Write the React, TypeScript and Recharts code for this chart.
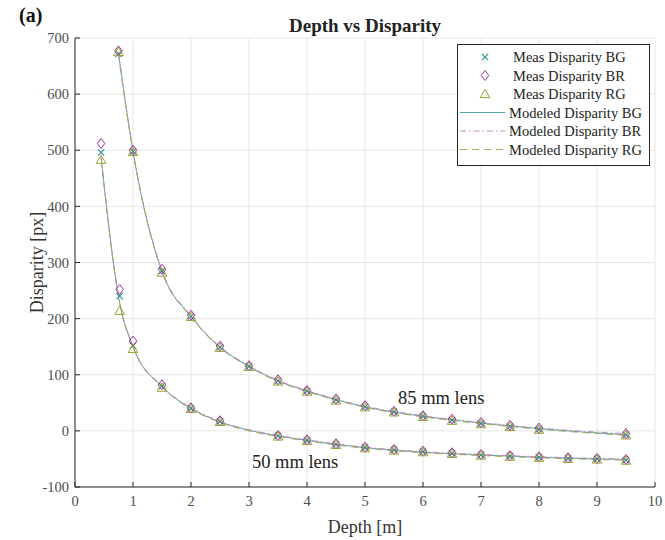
import {
  ComposedChart,
  Scatter,
  Line,
  XAxis,
  YAxis,
  CartesianGrid,
  Legend,
  ReferenceDot,
  Label,
} from 'recharts';

// depths [m]
const depth50 = [0.45, 0.77, 1.0, 1.5, 2, 2.5, 3.5, 4, 4.5, 5, 5.5, 6, 6.5, 7, 7.5, 8, 8.5, 9, 9.5];
const depth85 = [0.75, 1.0, 1.5, 2, 2.5, 3, 3.5, 4, 4.5, 5, 5.5, 6, 6.5, 7, 7.5, 8, 9.5];

// measured disparity [px]
const measBG50 = [496, 240, 152, 80, 40, 17, -9, -17, -24, -30, -34, -37, -40, -43, -45, -47, -49, -50, -52];
const measBR50 = [512, 252, 160, 82, 41, 18, -8, -16, -23, -29, -33, -36, -39, -42, -44, -46, -48, -49, -51];
const measRG50 = [483, 214, 146, 77, 39, 16, -10, -18, -25, -31, -35, -38, -41, -44, -46, -48, -50, -51, -53];

const measBG85 = [672, 498, 285, 204, 149, 115, 89, 71, 55, 43, 34, 26, 19, 13, 8, 3, -7];
const measBR85 = [677, 500, 288, 206, 151, 116, 91, 72, 57, 45, 35, 27, 21, 15, 10, 5, -5];
const measRG85 = [675, 497, 282, 203, 148, 114, 88, 70, 54, 42, 33, 25, 18, 12, 7, 2, -8];

// modeled curves
const modelDepth50 = [0.45, 0.77, 1.0, 1.5, 2, 2.5, 3, 3.5, 4, 5, 6, 7, 8, 9, 9.5];
const modelBG50 = [486, 228, 150, 79, 40, 16, 1, -9, -17, -30, -38, -43, -47, -50, -51];
const modelBR50 = [488, 230, 151, 80, 41, 17, 2, -8, -16, -29, -37, -42, -46, -49, -50];
const modelRG50 = [485, 227, 149, 78, 39, 15, 0, -10, -18, -31, -39, -44, -48, -51, -52];

const modelDepth85 = [0.75, 1.0, 1.5, 2, 2.5, 3, 3.5, 4, 5, 6, 7, 8, 9.5];
const modelBG85 = [672, 498, 284, 204, 149, 115, 89, 71, 43, 26, 14, 4, -7];
const modelBR85 = [674, 499, 286, 205, 150, 116, 90, 72, 44, 27, 15, 5, -5];
const modelRG85 = [671, 497, 283, 203, 148, 114, 88, 70, 42, 25, 13, 3, -8];

const xTicks = [0, 1, 2, 3, 4, 5, 6, 7, 8, 9, 10];
const yTicks = [-100, 0, 100, 200, 300, 400, 500, 600, 700];

const legendNames = [
  'Meas Disparity BG',
  'Meas Disparity BR',
  'Meas Disparity RG',
  'Modeled Disparity BG',
  'Modeled Disparity BR',
  'Modeled Disparity RG',
];

const zip = (xs: number[], ys: number[]) => xs.map((x, i) => ({ x, y: ys[i] }));

const BG_MARK = '#2a9090';
const BR_MARK = '#a030a8';
const RG_MARK = '#a0a030';
const BG_LINE = '#4fa9a9';
const BR_LINE = '#c88ac8';
const RG_LINE = '#a8a858';
const AXIS = '#262626';
const FONT = '"Liberation Serif", serif';

const XMark = (props: any) => {
  const { cx, cy } = props;
  const s = 3.2;
  return (
    <path
      d={`M${cx - s},${cy - s}L${cx + s},${cy + s}M${cx - s},${cy + s}L${cx + s},${cy - s}`}
      stroke={BG_MARK}
      strokeWidth={1.1}
      fill="none"
    />
  );
};

const DiamondMark = (props: any) => {
  const { cx, cy } = props;
  return (
    <path
      d={`M${cx},${cy - 5}L${cx + 3.8},${cy}L${cx},${cy + 5}L${cx - 3.8},${cy}Z`}
      stroke={BR_MARK}
      strokeWidth={1}
      fill="none"
    />
  );
};

const TriangleMark = (props: any) => {
  const { cx, cy } = props;
  return (
    <path
      d={`M${cx},${cy - 4.8}L${cx + 4.8},${cy + 3.6}L${cx - 4.8},${cy + 3.6}Z`}
      stroke={RG_MARK}
      strokeWidth={1}
      fill="none"
    />
  );
};

const LegendBox = () => {
  const rowY = [13, 31.5, 50, 68.5, 87, 105.5];
  return (
    <svg width={193} height={122} style={{ display: 'block' }}>
      <rect x={0.5} y={0.5} width={192} height={121} fill="#fff" stroke={AXIS} strokeWidth={1} />
      <XMark cx={28} cy={rowY[0]} />
      <DiamondMark cx={28} cy={rowY[1]} />
      <TriangleMark cx={28} cy={rowY[2]} />
      <line x1={3} x2={48} y1={rowY[3]} y2={rowY[3]} stroke={BG_LINE} strokeWidth={1} />
      <line x1={3} x2={48} y1={rowY[4]} y2={rowY[4]} stroke={BR_LINE} strokeWidth={1} strokeDasharray="6 3 1.5 3" />
      <line x1={3} x2={48} y1={rowY[5]} y2={rowY[5]} stroke={RG_LINE} strokeWidth={1} strokeDasharray="7 5" />
      {legendNames.map((name, i) => (
        <text
          key={name}
          x={i < 3 ? 56 : 52}
          y={rowY[i]}
          dominantBaseline="central"
          fontFamily={FONT}
          fontSize={14.5}
          fill="#222"
        >
          {name}
        </text>
      ))}
    </svg>
  );
};

const LensLabel = (props: any) => {
  const { viewBox, text } = props;
  return (
    <text x={viewBox.x} y={viewBox.y} dominantBaseline="central" fontFamily={FONT} fontSize={18.5} fill="#222">
      {text}
    </text>
  );
};

export default function App() {
  const tickStyle = { fill: '#4d4d4d', fontSize: 14.5, fontFamily: FONT };

  return (
    <div style={{ position: 'absolute', left: 0, top: 0, width: 665, height: 540, background: '#fff' }}>
      <div
        style={{
          position: 'absolute',
          left: 19,
          top: 4,
          fontFamily: FONT,
          fontWeight: 'bold',
          fontSize: 20,
          color: '#111',
        }}
      >
        (a)
      </div>
      <div
        style={{
          position: 'absolute',
          left: 75,
          width: 580,
          top: 15,
          textAlign: 'center',
          fontFamily: FONT,
          fontWeight: 'bold',
          fontSize: 19,
          color: '#222',
        }}
      >
        Depth vs Disparity
      </div>
      <ComposedChart width={665} height={540} margin={{ top: 38, right: 10, bottom: 0, left: 0 }}>
        <CartesianGrid stroke="#e6e6e6" strokeWidth={1} />
        <XAxis
          dataKey="x"
          type="number"
          domain={[0, 10]}
          ticks={xTicks}
          allowDataOverflow
          height={53}
          stroke={AXIS}
          tickSize={-5}
          tickMargin={14}
          tick={tickStyle}
        >
          <Label
            value="Depth [m]"
            position="insideBottom"
            offset={7}
            style={{ fontFamily: FONT, fontSize: 18, fill: '#333' }}
          />
        </XAxis>
        <XAxis
          xAxisId="top"
          orientation="top"
          type="number"
          domain={[0, 10]}
          ticks={xTicks}
          allowDataOverflow
          height={0}
          stroke={AXIS}
          tickSize={-5}
          tick={false}
        />
        <YAxis
          type="number"
          domain={[-100, 700]}
          ticks={yTicks}
          allowDataOverflow
          width={75}
          stroke={AXIS}
          tickSize={-5}
          tickMargin={11}
          tick={tickStyle}
        >
          <Label
            value="Disparity [px]"
            position="insideLeft"
            angle={-90}
            offset={37}
            style={{ fontFamily: FONT, fontSize: 18, fill: '#333', textAnchor: 'middle' }}
          />
        </YAxis>
        <YAxis
          yAxisId="right"
          orientation="right"
          type="number"
          domain={[-100, 700]}
          ticks={yTicks}
          allowDataOverflow
          width={0}
          stroke={AXIS}
          tickSize={-5}
          tick={false}
        />

        <Line data={zip(modelDepth50, modelBG50)} dataKey="y" type="monotone" stroke={BG_LINE} strokeWidth={1} dot={false} isAnimationActive={false} />
        <Line data={zip(modelDepth85, modelBG85)} dataKey="y" type="monotone" stroke={BG_LINE} strokeWidth={1} dot={false} isAnimationActive={false} />
        <Line data={zip(modelDepth50, modelBR50)} dataKey="y" type="monotone" stroke={BR_LINE} strokeWidth={1} strokeDasharray="6 3 1.5 3" dot={false} isAnimationActive={false} />
        <Line data={zip(modelDepth85, modelBR85)} dataKey="y" type="monotone" stroke={BR_LINE} strokeWidth={1} strokeDasharray="6 3 1.5 3" dot={false} isAnimationActive={false} />
        <Line data={zip(modelDepth50, modelRG50)} dataKey="y" type="monotone" stroke={RG_LINE} strokeWidth={1} strokeDasharray="7 5" dot={false} isAnimationActive={false} />
        <Line data={zip(modelDepth85, modelRG85)} dataKey="y" type="monotone" stroke={RG_LINE} strokeWidth={1} strokeDasharray="7 5" dot={false} isAnimationActive={false} />

        <Scatter data={zip(depth50, measBG50)} dataKey="y" shape={XMark} isAnimationActive={false} />
        <Scatter data={zip(depth85, measBG85)} dataKey="y" shape={XMark} isAnimationActive={false} />
        <Scatter data={zip(depth50, measBR50)} dataKey="y" shape={DiamondMark} isAnimationActive={false} />
        <Scatter data={zip(depth85, measBR85)} dataKey="y" shape={DiamondMark} isAnimationActive={false} />
        <Scatter data={zip(depth50, measRG50)} dataKey="y" shape={TriangleMark} isAnimationActive={false} />
        <Scatter data={zip(depth85, measRG85)} dataKey="y" shape={TriangleMark} isAnimationActive={false} />

        <ReferenceDot x={5.57} y={59} r={0} stroke="none" label={<LensLabel text="85 mm lens" />} />
        <ReferenceDot x={3.05} y={-56} r={0} stroke="none" label={<LensLabel text="50 mm lens" />} />

        <Legend
          layout="vertical"
          align="center"
          verticalAlign="middle"
          content={<LegendBox />}
          wrapperStyle={{ position: 'absolute', left: 457, top: 44, width: 193, height: 122 }}
        />
      </ComposedChart>
    </div>
  );
}
